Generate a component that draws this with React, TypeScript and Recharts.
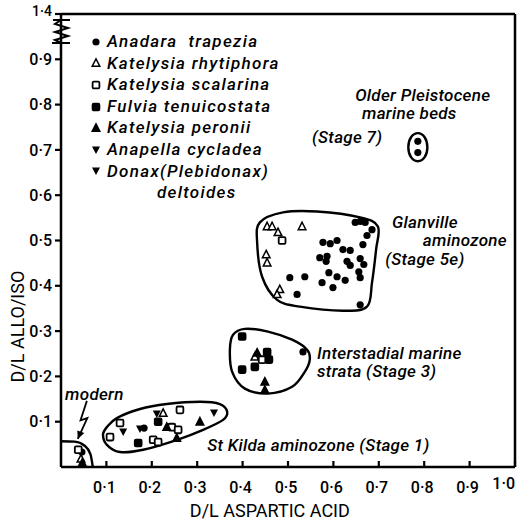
import React from 'react';
import { ComposedChart, Scatter, Line, XAxis, YAxis, ReferenceLine, Legend } from 'recharts';

type P = { x: number; y: number };
const pts = (a: number[][]): P[] => a.map(([x, y]) => ({ x, y }));

const xTicks = [0.1, 0.2, 0.3, 0.4, 0.5, 0.6, 0.7, 0.8, 0.9, 1.0];
const xTickLabels = ['0·1', '0·2', '0·3', '0·4', '0·5', '0·6', '0·7', '0·8', '0·9', '1·0'];
const yTicks = [0.1, 0.2, 0.3, 0.4, 0.5, 0.6, 0.7, 0.8, 0.9, 1.0];
// top of the axis is broken, the last tick stands for 1.4
const yTickLabels = ['0·1', '0·2', '0·3', '0·4', '0·5', '0·6', '0·7', '0·8', '0·9', '1·4'];

const anadara = pts([
  [0.648, 0.54], [0.659, 0.542], [0.67, 0.54], [0.685, 0.524], [0.674, 0.511],
  [0.577, 0.496], [0.593, 0.493], [0.608, 0.5], [0.665, 0.491], [0.621, 0.48],
  [0.637, 0.478], [0.57, 0.462], [0.586, 0.465], [0.584, 0.454], [0.63, 0.454],
  [0.637, 0.445], [0.659, 0.46], [0.667, 0.447], [0.59, 0.429], [0.608, 0.42],
  [0.626, 0.412], [0.575, 0.407], [0.599, 0.396], [0.537, 0.42], [0.504, 0.418],
  [0.656, 0.431], [0.659, 0.418], [0.52, 0.381], [0.659, 0.358],
  [0.533, 0.254], [0.183, 0.086], [0.046, 0.033], [0.786, 0.719], [0.786, 0.694],
]);
const rhytiphora = pts([
  [0.454, 0.531], [0.465, 0.531], [0.531, 0.531], [0.478, 0.518], [0.452, 0.469],
  [0.454, 0.451], [0.482, 0.392], [0.476, 0.381], [0.427, 0.243], [0.225, 0.119],
  [0.044, 0.018],
]);
const scalarina = pts([
  [0.487, 0.5], [0.443, 0.237], [0.13, 0.097], [0.108, 0.066], [0.244, 0.088],
  [0.258, 0.082], [0.262, 0.126], [0.203, 0.06], [0.214, 0.055], [0.038, 0.038],
]);
const fulvia = pts([
  [0.399, 0.288], [0.399, 0.215], [0.454, 0.254], [0.427, 0.221], [0.458, 0.237],
  [0.17, 0.053], [0.214, 0.1],
]);
const peronii = pts([
  [0.432, 0.252], [0.449, 0.188], [0.449, 0.17], [0.233, 0.088], [0.255, 0.064],
  [0.306, 0.1], [0.047, 0.009],
]);
const anapella = pts([[0.137, 0.077], [0.211, 0.117]]);
const donax = pts([[0.174, 0.084], [0.337, 0.119]]);

// outlines drawn round the groups
const olderLoop = pts([
  [0.786, 0.737], [0.801, 0.728], [0.807, 0.706], [0.801, 0.684],
  [0.786, 0.675], [0.771, 0.684], [0.765, 0.706], [0.771, 0.728],
]);
const glanvilleLoop = pts([
  [0.438, 0.54], [0.489, 0.562], [0.564, 0.564], [0.659, 0.551], [0.698, 0.531],
  [0.694, 0.48], [0.685, 0.407], [0.674, 0.354], [0.621, 0.345], [0.526, 0.354],
  [0.476, 0.369], [0.443, 0.42], [0.432, 0.496],
]);
const interstadialLoop = pts([
  [0.379, 0.292], [0.405, 0.305], [0.456, 0.299], [0.509, 0.281], [0.542, 0.259],
  [0.548, 0.237], [0.537, 0.21], [0.509, 0.177], [0.456, 0.162], [0.405, 0.173],
  [0.377, 0.21], [0.372, 0.259],
]);
const stKildaLoop = pts([
  [0.0925, 0.071], [0.101, 0.088], [0.123, 0.108], [0.174, 0.128], [0.233, 0.139],
  [0.306, 0.144], [0.35, 0.139], [0.366, 0.122], [0.357, 0.104], [0.313, 0.082],
  [0.256, 0.06], [0.181, 0.038], [0.13, 0.033], [0.101, 0.049],
]);
const modernLoop = pts([[0, 0.057], [0.03, 0.056], [0.052, 0.047], [0.065, 0.028], [0.07, 0]]);
const modernArrow = pts([[0.057, 0.146], [0.043, 0.103], [0.058, 0.108], [0.037, 0.062]]);

const notes = [
  { x: 0.648, y: 0.821, text: 'Older Pleistocene' },
  { x: 0.663, y: 0.781, text: 'marine beds' },
  { x: 0.553, y: 0.728, text: '(Stage 7)' },
  { x: 0.729, y: 0.54, text: 'Glanville' },
  { x: 0.797, y: 0.502, text: 'aminozone' },
  { x: 0.714, y: 0.458, text: '(Stage 5e)' },
  { x: 0.564, y: 0.252, text: 'Interstadial marine' },
  { x: 0.564, y: 0.212, text: 'strata (Stage 3)' },
  { x: 0.322, y: 0.049, text: 'St Kilda aminozone (Stage 1)' },
  { x: 0.009, y: 0.161, text: 'modern' },
];

const species = [
  { name: 'Anadara  trapezia', data: anadara, mark: 'dot' },
  { name: 'Katelysia rhytiphora', data: rhytiphora, mark: 'tri' },
  { name: 'Katelysia scalarina', data: scalarina, mark: 'sq' },
  { name: 'Fulvia tenuicostata', data: fulvia, mark: 'sqFill' },
  { name: 'Katelysia peronii', data: peronii, mark: 'triFill' },
  { name: 'Anapella cycladea', data: anapella, mark: 'inv' },
  { name: 'Donax(Plebidonax)', data: donax, mark: 'inv' },
];

const FONT = 'Roboto, "DejaVu Sans", sans-serif';

function Mark({ kind, cx, cy }: { kind: string; cx: number; cy: number }) {
  if (kind === 'dot') return <circle cx={cx} cy={cy} r={3.6} fill="#000" />;
  if (kind === 'sq' || kind === 'sqFill')
    return (
      <rect x={cx - 3.4} y={cy - 3.4} width={6.8} height={6.8} rx={1.2}
        fill={kind === 'sq' ? '#fff' : '#000'} stroke="#000" strokeWidth={1.8} />
    );
  if (kind === 'inv')
    return <polygon points={`${cx - 4},${cy - 3.5} ${cx + 4},${cy - 3.5} ${cx},${cy + 4}`} fill="#000" />;
  return (
    <polygon points={`${cx},${cy - 4.2} ${cx + 3.8},${cy + 3.2} ${cx - 3.8},${cy + 3.2}`}
      fill={kind === 'tri' ? '#fff' : '#000'} stroke="#000" strokeWidth={1.5} />
  );
}

const closedCurve = (context: any) => {
  let p: number[][] = [];
  return {
    areaStart() {},
    areaEnd() {},
    lineStart() { p = []; },
    point(x: number, y: number) { p.push([x, y]); },
    lineEnd() {
      const n = p.length;
      if (n < 3) return;
      context.moveTo(p[0][0], p[0][1]);
      for (let i = 0; i < n; i++) {
        const a = p[(i + n - 1) % n], b = p[i], c = p[(i + 1) % n], d = p[(i + 2) % n];
        context.bezierCurveTo(
          b[0] + (c[0] - a[0]) / 6, b[1] + (c[1] - a[1]) / 6,
          c[0] - (d[0] - b[0]) / 6, c[1] - (d[1] - b[1]) / 6,
          c[0], c[1]);
      }
      context.closePath();
    },
  };
};

const XTick = (props: any) => {
  const { x, y, payload } = props;
  const i = xTicks.indexOf(payload.value);
  const last = i === xTicks.length - 1;
  return (
    <g>
      <line x1={x} x2={x} y1={y} y2={y - 6} stroke="#000" strokeWidth={2.2} />
      <text x={last ? x : x - 2} y={y + (last ? 16 : 20)} dy="0.35em" textAnchor={last ? 'end' : 'middle'}
        fontFamily={FONT} fontWeight={500} fontSize={16} fill="#000">
        {xTickLabels[i]}
      </text>
    </g>
  );
};

const YTick = (props: any) => {
  const { x, y, payload } = props;
  const i = yTicks.indexOf(payload.value);
  const top = i === yTicks.length - 1;
  const ax = x + 9;
  return (
    <g>
      <text x={x} y={top ? y - 3 : y} dy="0.35em" textAnchor="end" fontFamily={FONT}
        fontWeight={500} fontSize={top ? 14 : 16} fill="#000">
        {yTickLabels[i]}
      </text>
      {top && (
        <path
          d={`M${ax - 8},${y + 6} L${ax + 9},${y + 6} M${ax},${y + 6} L${ax - 6},${y + 10} L${ax + 7},${y + 14} L${ax - 6},${y + 18} L${ax + 7},${y + 22} L${ax - 6},${y + 26} L${ax},${y + 29} M${ax - 9},${y + 29} L${ax + 9},${y + 29}`}
          fill="none" stroke="#000" strokeWidth={2} />
      )}
    </g>
  );
};

const Note = (p: any) => (
  <text x={p.cx} y={p.cy} dy="0.35em" fontFamily={FONT} fontStyle="italic" fontWeight={500}
    fontSize={17} letterSpacing={0.3} fill="#000">
    {p.payload.text}
  </text>
);

const ArrowDot = (p: any) => {
  if (p.index !== modernArrow.length - 1) return <g key={p.index} />;
  const { cx, cy } = p;
  return (
    <polygon key={p.index} points={`${cx},${cy} ${cx + 6.5},${cy - 6} ${cx - 0.5},${cy - 8.5}`} fill="#000" />
  );
};

const LegendBox = () => (
  <div style={{ fontFamily: FONT, fontStyle: 'italic', fontWeight: 500, fontSize: 17, letterSpacing: 1.3, lineHeight: '21.6px', color: '#000' }}>
    {species.map((s) => (
      <div key={s.name} style={{ display: 'flex', alignItems: 'center', whiteSpace: 'pre' }}>
        <svg width={16} height={12} style={{ marginRight: 3 }}>
          <Mark kind={s.mark} cx={8} cy={6} />
        </svg>
        {s.name}
      </div>
    ))}
    <div style={{ paddingLeft: 69 }}>deltoides</div>
  </div>
);

export default function App() {
  return (
    <div style={{ position: 'absolute', left: 0, top: 0, background: '#fff' }}>
      <ComposedChart width={521} height={524} margin={{ top: 14, right: 6, bottom: 17, left: 8 }}>
        <XAxis dataKey="x" type="number" domain={[0, 1]} allowDataOverflow ticks={xTicks}
          height={40} tickSize={0} tickMargin={0} tickLine={false} tick={<XTick />}
          axisLine={{ stroke: '#000', strokeWidth: 2.5 }}
          label={{
            content: (lp: any) => (
              <text x={lp.viewBox.x + lp.viewBox.width * 0.46} y={lp.viewBox.y + 50}
                textAnchor="middle" fontFamily={FONT} fontSize={18} fill="#000">
                D/L ASPARTIC ACID
              </text>
            ),
          }} />
        <YAxis dataKey="y" type="number" domain={[0, 1]} allowDataOverflow ticks={yTicks}
          width={53} tickSize={6} tickMargin={3} tick={<YTick />}
          tickLine={{ stroke: '#000', strokeWidth: 2.2 }}
          axisLine={{ stroke: '#000', strokeWidth: 2.5 }}
          label={{
            content: (lp: any) => {
              const cx = lp.viewBox.x + 10;
              const cy = lp.viewBox.y + lp.viewBox.height * 0.69;
              return (
                <text x={cx} y={cy} transform={`rotate(-90 ${cx} ${cy})`} textAnchor="middle"
                  dy="0.35em" fontFamily={FONT} fontSize={18} fill="#000">
                  D/L  ALLO/ISO
                </text>
              );
            },
          }} />
        <ReferenceLine y={1} stroke="#000" strokeWidth={2.5} />
        <ReferenceLine x={1} stroke="#000" strokeWidth={2.5} />
        <Legend layout="vertical" align="center" verticalAlign="middle" content={<LegendBox />}
          wrapperStyle={{ top: 31, left: 88, width: 200, height: 180 }} />

        {[olderLoop, glanvilleLoop, interstadialLoop, stKildaLoop].map((loop, i) => (
          <Line key={'loop' + i} data={loop} dataKey="y" type={closedCurve as any} stroke="#000"
            strokeWidth={2.4} dot={false} activeDot={false} legendType="none" isAnimationActive={false} />
        ))}
        <Line data={modernLoop} dataKey="y" type="monotone" stroke="#000" strokeWidth={2.4}
          dot={false} activeDot={false} legendType="none" isAnimationActive={false} />
        <Line data={modernArrow} dataKey="y" type="linear" stroke="#000" strokeWidth={1.8}
          dot={<ArrowDot />} activeDot={false} legendType="none" isAnimationActive={false} />

        {species.map((s) => (
          <Scatter key={s.name} name={s.name} data={s.data} isAnimationActive={false}
            shape={(p: any) => <Mark kind={s.mark} cx={p.cx} cy={p.cy} />} />
        ))}
        <Scatter data={notes} legendType="none" isAnimationActive={false} shape={Note} />
      </ComposedChart>
    </div>
  );
}
